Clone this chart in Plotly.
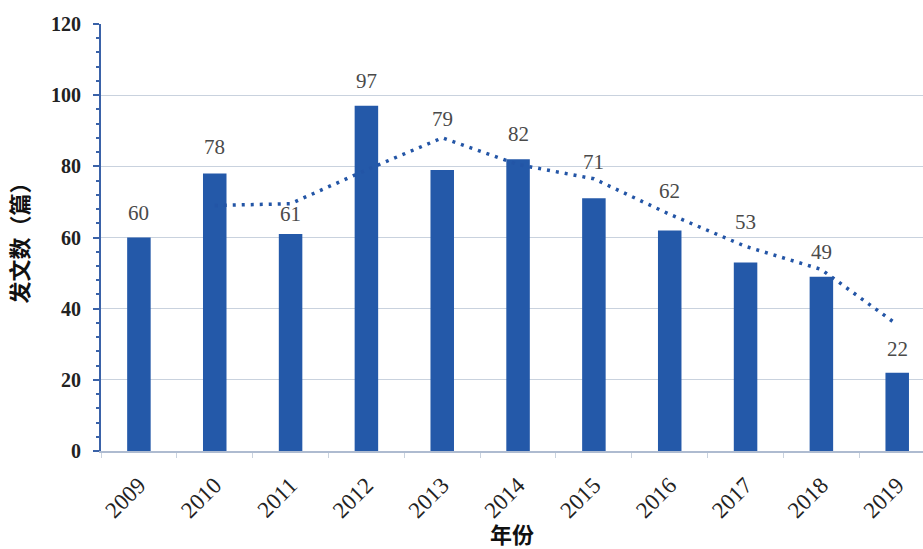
import plotly.graph_objects as go

# Annual publication counts
years = ["2009", "2010", "2011", "2012", "2013", "2014", "2015", "2016", "2017", "2018", "2019"]
papers = [60, 78, 61, 97, 79, 82, 71, 62, 53, 49, 22]

# Two-period moving-average trend (starts at the second year)
trend_years = ["2010", "2011", "2012", "2013", "2014", "2015", "2016", "2017", "2018", "2019"]
trend_values = [69, 69.5, 79, 88, 80.5, 76.5, 66.5, 57.5, 51, 35.5]

y_ticks = [0, 20, 40, 60, 80, 100, 120]

# Pixel lift of each value label above its bar, nudged clear of the trend line
label_lift = [25, 26, 20, 25, 51, 25, 36, 39, 40, 25, 24]

BAR = "#2459a9"
LINE = "#2355a6"
GRID = "#c9d2de"

fig = go.Figure()

fig.add_trace(go.Bar(
    x=years,
    y=papers,
    width=0.31,
    marker=dict(color=BAR, line=dict(width=0)),
    showlegend=False,
))

fig.add_trace(go.Scatter(
    x=trend_years,
    y=trend_values,
    mode="lines",
    line=dict(color=LINE, width=3.5, dash="3px,6px"),
    showlegend=False,
))

# Value labels floating above each bar (category axis positions are indices)
for i, (v, lift) in enumerate(zip(papers, label_lift)):
    fig.add_annotation(
        x=i, y=v, xref="x", yref="y", text=str(v), showarrow=False,
        yanchor="middle", yshift=lift,
        font=dict(family="Liberation Serif", size=21, color="#4a4a4a"),
    )

fig.update_layout(
    width=923,
    height=549,
    margin=dict(l=101, r=0, t=24, b=98),
    paper_bgcolor="white",
    plot_bgcolor="white",
    xaxis=dict(
        type="category",
        range=[-0.5, 10.34],
        automargin=False,
        tickangle=-45,
        tickfont=dict(family="Liberation Serif", size=23, color="#222222"),
        ticklabelstandoff=10,
        ticks="outside",
        ticklen=5,
        tickcolor=GRID,
        tickson="boundaries",
        showline=True,
        linecolor="#aebbd0",
        linewidth=1.5,
        showgrid=False,
        title=dict(text="<b>年份</b>", font=dict(family="Noto Sans CJK SC", size=22, color="#111111"), standoff=16),
    ),
    yaxis=dict(
        range=[0, 120],
        automargin=False,
        tickvals=y_ticks,
        tickfont=dict(family="Liberation Serif", size=20, color="#222222", weight="bold"),
        ticklabelstandoff=8,
        ticks="outside",
        ticklen=6,
        tickwidth=2,
        tickcolor="#3a62a8",
        minor=dict(dtick=4, ticks="outside", ticklen=3, tickwidth=2, tickcolor="#3a62a8", showgrid=False),
        showline=True,
        linecolor="#3a62a8",
        linewidth=2,
        showgrid=True,
        gridcolor=GRID,
        gridwidth=1,
        zeroline=False,
        title=dict(text="<b>发文数（篇）</b>", font=dict(family="Noto Sans CJK SC", size=22, color="#111111"), standoff=16),
    ),
)

fig.write_html("out.html")
